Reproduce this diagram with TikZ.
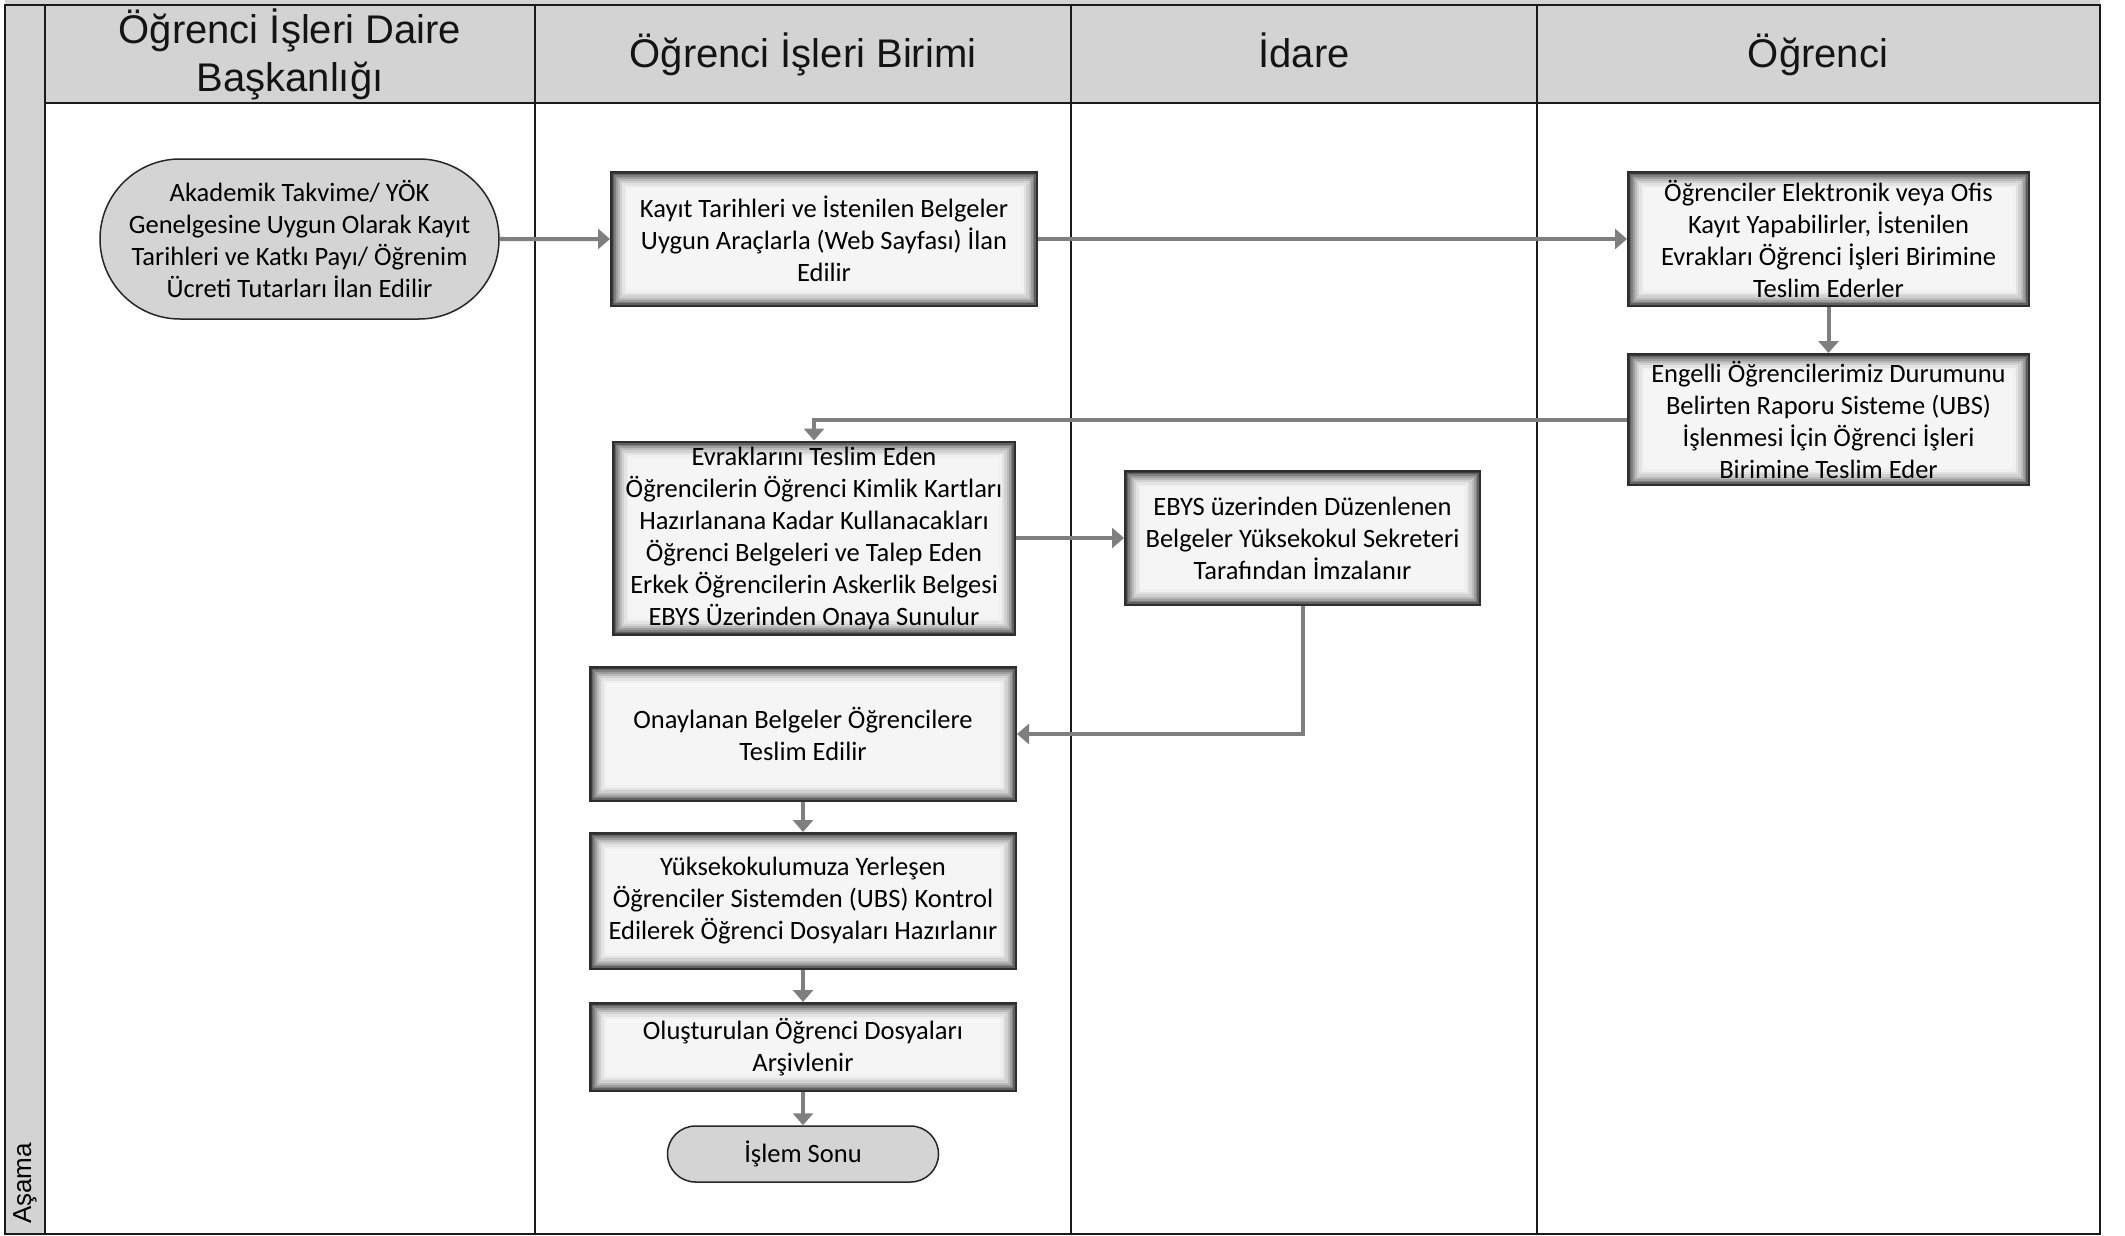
\documentclass[tikz,border=0pt]{standalone}
\usepackage{fontspec}
\setmainfont{Carlito}
\newfontfamily\headfont{Liberation Sans}
\usetikzlibrary{arrows.meta,shapes.misc,calc}
\definecolor{lanegray}{HTML}{D3D3D3}
\definecolor{termgray}{HTML}{D4D4D4}
\definecolor{arrowgray}{HTML}{7F7F7F}
\definecolor{framecol}{HTML}{1A1A1A}
\tikzset{
  lane/.style={draw=framecol, line width=2.5pt},
  headtext/.style={font=\headfont\fontsize{40}{48}\selectfont, text=black!92, align=center, inner sep=0pt},
  boxtext/.style={font=\fontsize{26.5}{32}\selectfont, align=center, text=black},
  procbox/.style={boxtext, rectangle, draw=black!82, line width=2pt, fill=black!4, inner sep=0pt,
    path picture={
      \foreach \w/\c in {32/6,27/11,22/18,17/27,13/38,9/50,6/62,3/76}{
        \draw[line width=\w pt, black!\c] (path picture bounding box.south west) rectangle (path picture bounding box.north east);
      }
    }},
  term/.style={boxtext, rounded rectangle, draw=black!85, line width=1.5pt, fill=termgray, inner sep=0pt},
  flow/.style={draw=arrowgray, line width=4pt, -{Triangle[length=12pt,width=20pt]}},
}
\begin{document}
\begin{tikzpicture}[x=1pt,y=-1pt]
\useasboundingbox (0,0) rectangle (2125,1236);
\fill[white] (0,0) rectangle (2125,1236);
% lanes
\fill[lanegray] (5,0) rectangle (2100,103);
\fill[lanegray] (5,5) rectangle (45,1234);
\draw[lane] (5,5) rectangle (2100,1234);
\draw[lane] (45,5) -- (45,1234);
\draw[lane] (45,103) -- (2100,103);
\foreach \x in {535,1071,1537} \draw[lane] (\x,5) -- (\x,1234);
% headers
\node[headtext] (h1) at (290,54) {Öğrenci İşleri Daire\\Başkanlığı};
\node[headtext, anchor=base] (h2) at (803,68) {Öğrenci İşleri Birimi};
\node[headtext, anchor=base] (h3) at (1304,68) {İdare};
\node[headtext, anchor=base] (h4) at (1818,68) {Öğrenci};
\node[font=\headfont\fontsize{26}{30}\selectfont, rotate=90, anchor=west, inner sep=0pt] (asama) at (25,1224) {Aşama};
% nodes
\node[term, minimum width=399pt, minimum height=160pt] (s1) at (299.5,239) {Akademik Takvime/ YÖK\\Genelgesine Uygun Olarak Kayıt\\Tarihleri ve Katkı Payı/ Öğrenim\\Ücreti Tutarları İlan Edilir};
\node[procbox, minimum width=426pt, minimum height=134pt] (b2) at (824,239) {Kayıt Tarihleri ve İstenilen Belgeler\\Uygun Araçlarla (Web Sayfası) İlan\\Edilir};
\node[procbox, minimum width=401pt, minimum height=134pt] (b3) at (1828.5,239) {Öğrenciler Elektronik veya Ofis\\Kayıt Yapabilirler, İstenilen\\Evrakları Öğrenci İşleri Birimine\\Teslim Ederler};
\node[procbox, minimum width=401pt, minimum height=131pt] (b4) at (1828.5,419.5) {Engelli Öğrencilerimiz Durumunu\\Belirten Raporu Sisteme (UBS)\\İşlenmesi İçin Öğrenci İşleri\\Birimine Teslim Eder};
\node[procbox, minimum width=402pt, minimum height=193pt] (b5) at (814,538) {Evraklarını Teslim Eden\\Öğrencilerin Öğrenci Kimlik Kartları\\Hazırlanana Kadar Kullanacakları\\Öğrenci Belgeleri ve Talep Eden\\Erkek Öğrencilerin Askerlik Belgesi\\EBYS Üzerinden Onaya Sunulur};
\node[procbox, minimum width=355pt, minimum height=134pt] (b6) at (1302.5,538) {EBYS üzerinden Düzenlenen\\Belgeler Yüksekokul Sekreteri\\Tarafından İmzalanır};
\node[procbox, minimum width=426pt, minimum height=134pt] (b7) at (803,734) {Onaylanan Belgeler Öğrencilere\\Teslim Edilir};
\node[procbox, minimum width=426pt, minimum height=136pt] (b8) at (803,901) {Yüksekokulumuza Yerleşen\\Öğrenciler Sistemden (UBS) Kontrol\\Edilerek Öğrenci Dosyaları Hazırlanır};
\node[procbox, minimum width=426pt, minimum height=88pt] (b9) at (803,1047) {Oluşturulan Öğrenci Dosyaları\\Arşivlenir};
\node[term, minimum width=271pt, minimum height=56pt] (fin) at (803,1154) {İşlem Sonu};
% connectors
\draw[flow] (s1) -- (b2);
\draw[flow] (b2) -- (b3);
\draw[flow] (b3) -- (b4);
\draw[flow] (b4.west) -| (b5.north);
\draw[flow] (b5) -- (b6);
\draw[flow] (b6.south) |- (b7.east);
\draw[flow] (b7) -- (b8);
\draw[flow] (b8) -- (b9);
\draw[flow] (b9) -- (fin);
\end{tikzpicture}
\end{document}
